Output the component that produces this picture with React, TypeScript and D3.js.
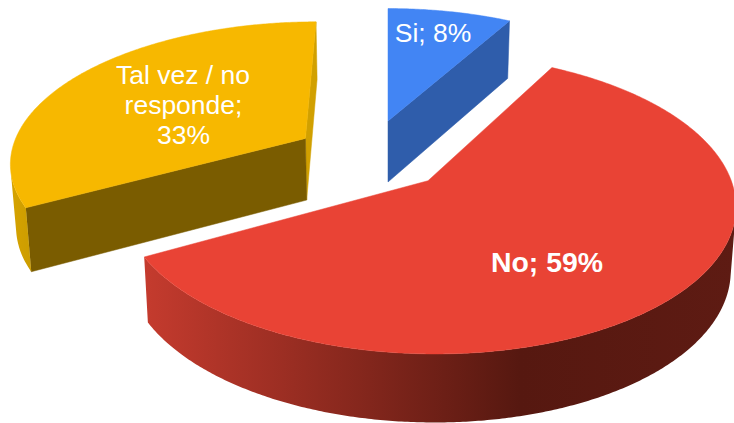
import React from "react";
import * as d3 from "d3";

const categories = ["Si", "No", "Tal vez / no responde"];
const values = [8, 59, 33];
const topColors = ["#4285F4", "#E94335", "#F7B800"];
const startWallColors = ["#1F3F78", "#8A2A20", "#7A5C00"];
const endWallColors = ["#2F5DAB", "#C0392B", "#D1A000"];
const rimStops = [
  ["#2F5DAB", "#2F5DAB"],
  ["#C53B2E", "#561810", "#5E1B13"],
  ["#D6A300", "#C89A00"],
];
const rimDomains = [
  [380, 520],
  [143, 520, 734],
  [10, 40],
];
// slice apex offsets on the pie plane (explosion), in radius units
const explodeX = [0, 0.132, -0.285];
const explodeY = [-0.43, 0.005, -0.297];

const WIDTH = 734;
const HEIGHT = 423;
const CX = 388;
const RADIUS_X = 303;
const PERSPECTIVE = 0.154;
const HORIZON = -770;
const PLANE = 950;
const DEPTH = 63;
const DEPTH_TAPER = 0.015;

const project = (x: number, y: number, z: number): [number, number] => {
  const s = 1 / (1 - PERSPECTIVE * y);
  return [
    CX + RADIUS_X * x * s * (1 - DEPTH_TAPER * z),
    HORIZON + PLANE * s + DEPTH * z * Math.sqrt(s),
  ];
};

const line = d3.line<[number, number]>();

export default function App() {
  const arcs = d3.pie<number>().sort(null).startAngle(0).endAngle(2 * Math.PI)(values);

  const slices = arcs.map((a, i) => {
    const ox = explodeX[i];
    const oy = explodeY[i];
    const n = Math.ceil(((a.endAngle - a.startAngle) * 180) / Math.PI) * 2;
    const angles = d3.range(n + 1).map((k) => a.startAngle + ((a.endAngle - a.startAngle) * k) / n);
    const rim = angles.map((t) => ({ x: ox + Math.sin(t), y: oy - Math.cos(t) }));
    const top = [
      project(ox, oy, 0),
      ...rim.map((p) => project(p.x, p.y, 0)),
    ] as [number, number][];

    const quad = (a0: { x: number; y: number }, b0: { x: number; y: number }) =>
      [
        project(a0.x, a0.y, 0),
        project(b0.x, b0.y, 0),
        project(b0.x, b0.y, 1),
        project(a0.x, a0.y, 1),
      ] as [number, number][];

    const apex = { x: ox, y: oy };
    const startQuad = quad(apex, rim[0]);
    const endQuad = quad(rim[n], apex);
    const walls: { d: [number, number][]; fill: string; area: number }[] = [];
    const startArea = d3.polygonArea(startQuad);
    const endArea = d3.polygonArea(endQuad);
    if (startArea > 0) walls.push({ d: startQuad, fill: startWallColors[i], area: startArea });
    if (endArea > 0) walls.push({ d: endQuad, fill: endWallColors[i], area: endArea });
    walls.sort((p, q) => p.area - q.area);

    // the part of the rim that faces the viewer, as one band
    const visible = d3
      .range(n)
      .filter((k) => d3.polygonArea(quad(rim[k], rim[k + 1])) > 0);
    let band: [number, number][] | null = null;
    if (visible.length) {
      const from = visible[0];
      const to = visible[visible.length - 1] + 1;
      const part = rim.slice(from, to + 1);
      band = [
        ...part.map((p) => project(p.x, p.y, 0)),
        ...part.slice().reverse().map((p) => project(p.x, p.y, 1)),
      ] as [number, number][];
    }
    return { key: categories[i], top, walls, band, color: topColors[i], i };
  });

  const font = "'Liberation Sans', Arial, sans-serif";

  return (
    <svg
      width={WIDTH}
      height={HEIGHT}
      viewBox={`0 0 ${WIDTH} ${HEIGHT}`}
      style={{ position: "absolute", left: 0, top: 0, background: "#fff" }}
    >
      <defs>
        {rimStops.map((stops, i) => {
          const dom = rimDomains[i];
          const x0 = dom[0];
          const x1 = dom[dom.length - 1];
          const off = d3.scaleLinear().domain([x0, x1]).range([0, 1]);
          return (
            <linearGradient key={i} id={`rim${i}`} gradientUnits="userSpaceOnUse" x1={x0} x2={x1} y1={0} y2={0}>
              {stops.map((c, k) => (
                <stop key={k} offset={off(dom[k])} stopColor={c} />
              ))}
            </linearGradient>
          );
        })}
      </defs>
      {slices.map((s) => (
        <g key={s.key}>
          {s.walls.map((w, i) => (
            <path key={i} d={line(w.d) + "Z"} fill={w.fill} stroke={w.fill} strokeWidth={0.5} />
          ))}
          {s.band && <path d={line(s.band) + "Z"} fill={`url(#rim${s.i})`} />}
          <path d={line(s.top) + "Z"} fill={s.color} stroke={s.color} strokeWidth={0.5} />
        </g>
      ))}
      <g fill="#fff" fontFamily={font} fontSize={26.5} textAnchor="middle">
        <text x={183} y={84}>Tal vez / no</text>
        <text x={183.5} y={114}>responde;</text>
        <text x={183.5} y={144}>33%</text>
        <text x={433} y={41.5}>Si; 8%</text>
      </g>
      <text x={547} y={271.5} fill="#fff" fontFamily={font} fontSize={28.4} fontWeight="bold" textAnchor="middle">
        No; 59%
      </text>
    </svg>
  );
}
